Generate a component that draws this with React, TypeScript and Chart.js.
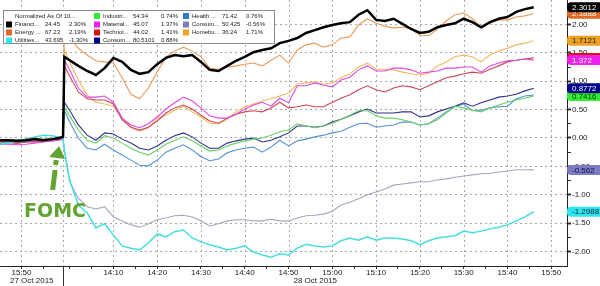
import React, { useEffect, useRef } from 'react';
import { Chart, registerables } from 'chart.js';

Chart.register(...registerables);

// minutes relative to 28 Oct 2015 14:00; negative values = 27 Oct 2015 closing session (compressed axis)
const times = [-15.9, -14, -12, -10, -8, -6, -4, -2.5, -1.5, -1.2,
  0, 2, 4, 6, 8, 10, 12, 14, 16, 18, 20, 22, 24, 26, 28, 30, 32, 34, 36, 38, 40,
  42, 44, 46, 48, 50, 52, 54, 56, 58, 60, 62, 64, 66, 68, 70, 72, 74, 76, 78, 80,
  82, 84, 86, 88, 90, 92, 94, 96, 98, 100, 102, 104, 106];

const dayBoundary = -1.4;
const xMin = -15.9;
const xMax = 113.6;
const yMin = -2.254;
const yMax = 2.43;

const financials = [-0.04, -0.04, -0.05, -0.04, -0.02, -0.04, -0.02, 0.0, 0.02, 1.43,
  1.37, 1.27, 1.18, 1.11, 1.23, 1.41, 1.34, 1.2, 1.13, 1.16, 1.3, 1.41, 1.46, 1.44, 1.46, 1.34,
  1.2, 1.18, 1.27, 1.36, 1.43, 1.51, 1.55, 1.58, 1.67, 1.71, 1.76, 1.85, 1.9, 1.95, 1.99,
  2.02, 2.04, 2.17, 2.25, 2.08, 2.06, 2.1, 2.01, 1.92, 1.85, 1.87, 1.95, 1.99, 2.02, 2.1,
  2.04, 1.95, 2.04, 2.1, 2.13, 2.22, 2.27, 2.3012];
const energy = [-0.05, -0.04, -0.05, -0.05, -0.04, -0.04, -0.02, 0.0, 0.02, 1.99,
  1.76, 1.58, 1.46, 1.36, 1.34, 1.32, 1.06, 0.77, 0.69, 0.88, 1.16, 1.43, 1.53, 1.6, 1.53, 1.43,
  1.23, 1.21, 1.25, 1.27, 1.3, 1.32, 1.27, 1.37, 1.46, 1.32, 1.55, 1.64, 1.67, 1.6, 1.64,
  1.76, 1.78, 1.99, 2.1, 2.02, 1.97, 1.94, 1.95, 1.92, 1.81, 1.8, 1.92, 2.06, 2.17, 2.2,
  2.1, 1.95, 2.02, 2.08, 2.08, 2.13, 2.15, 2.1888];
const utilities = [-0.11, -0.09, -0.05, -0.02, 0.02, 0.05, 0.04, 0.02, 0.0, -0.21,
  -0.74, -1.18, -1.32, -1.58, -1.51, -1.71, -1.9, -1.94, -1.97, -1.85, -1.69, -1.74, -1.65, -1.62, -1.76, -1.83,
  -1.88, -1.92, -1.97, -1.94, -1.9, -2.01, -2.06, -2.1, -2.04, -2.06, -1.94, -1.87, -1.9, -1.92, -1.9,
  -1.81, -1.76, -1.8, -1.74, -1.8, -1.76, -1.76, -1.78, -1.81, -1.88, -1.81, -1.76, -1.74, -1.72, -1.64,
  -1.67, -1.64, -1.6, -1.57, -1.53, -1.46, -1.39, -1.2988];
const industrials = [-0.04, -0.04, -0.04, -0.02, -0.02, -0.02, -0.02, 0.0, 0.0, 0.56,
  0.39, 0.14, -0.04, -0.09, 0.04, 0.0, -0.09, -0.18, -0.25, -0.3, -0.21, -0.11, -0.04, 0.02, -0.05, -0.14,
  -0.23, -0.21, -0.14, -0.09, -0.05, -0.02, 0.0, 0.05, 0.11, 0.14, 0.25, 0.21, 0.18, 0.21, 0.26,
  0.33, 0.4, 0.48, 0.48, 0.39, 0.35, 0.35, 0.32, 0.28, 0.23, 0.25, 0.32, 0.44, 0.56, 0.53,
  0.49, 0.46, 0.53, 0.58, 0.63, 0.67, 0.7, 0.7416];
const materials = [-0.11, -0.11, -0.12, -0.11, -0.09, -0.07, -0.05, -0.04, -0.02, 1.37,
  1.2, 0.88, 0.72, 0.72, 0.74, 0.63, 0.35, 0.23, 0.18, 0.25, 0.37, 0.51, 0.62, 0.72, 0.65, 0.53,
  0.39, 0.35, 0.35, 0.42, 0.51, 0.58, 0.63, 0.56, 0.7, 0.62, 0.92, 0.92, 0.97, 0.93, 0.9,
  1.02, 1.07, 1.2, 1.27, 1.18, 1.18, 1.23, 1.23, 1.2, 1.14, 1.16, 1.18, 1.23, 1.23, 1.25,
  1.25, 1.16, 1.27, 1.32, 1.36, 1.37, 1.39, 1.372];
const technology = [-0.07, -0.07, -0.09, -0.07, -0.07, -0.05, -0.04, -0.02, 0.0, 1.27,
  1.09, 0.81, 0.69, 0.67, 0.67, 0.6, 0.32, 0.19, 0.14, 0.19, 0.3, 0.44, 0.53, 0.58, 0.51, 0.4,
  0.3, 0.26, 0.35, 0.42, 0.46, 0.48, 0.46, 0.53, 0.63, 0.53, 0.55, 0.58, 0.55, 0.55, 0.63,
  0.7, 0.76, 0.85, 0.92, 0.85, 0.81, 0.88, 0.92, 0.9, 0.85, 0.92, 0.99, 1.06, 1.09, 1.13,
  1.16, 1.14, 1.21, 1.27, 1.34, 1.37, 1.39, 1.4102];
const consumerDisc = [-0.05, -0.05, -0.07, -0.05, -0.05, -0.05, -0.04, -0.02, 0.0, 0.63,
  0.49, 0.23, 0.05, -0.04, 0.09, 0.07, -0.02, -0.09, -0.18, -0.21, -0.14, -0.04, 0.04, 0.09, 0.02, -0.09,
  -0.18, -0.18, -0.09, -0.05, -0.02, 0.0, -0.07, -0.04, 0.02, 0.09, 0.21, 0.21, 0.19, 0.21, 0.28,
  0.33, 0.39, 0.46, 0.51, 0.44, 0.44, 0.44, 0.46, 0.46, 0.37, 0.39, 0.46, 0.51, 0.56, 0.62,
  0.56, 0.62, 0.67, 0.72, 0.74, 0.77, 0.83, 0.8772];
const health = [-0.07, -0.07, -0.09, -0.07, -0.05, -0.05, -0.04, -0.02, 0.0, 0.49,
  0.28, 0.0, -0.18, -0.21, -0.11, -0.21, -0.3, -0.39, -0.48, -0.49, -0.39, -0.25, -0.18, -0.12, -0.21, -0.33,
  -0.4, -0.37, -0.26, -0.21, -0.18, -0.16, -0.25, -0.16, -0.04, -0.14, -0.05, -0.02, 0.02, 0.05, 0.09,
  0.12, 0.19, 0.25, 0.26, 0.19, 0.21, 0.23, 0.28, 0.28, 0.23, 0.25, 0.35, 0.46, 0.55, 0.6,
  0.48, 0.49, 0.53, 0.55, 0.56, 0.69, 0.74, 0.7581];
const staples = [-0.09, -0.09, -0.09, -0.07, -0.05, -0.05, -0.05, -0.04, -0.02, -0.21,
  -0.77, -1.06, -1.21, -1.25, -1.21, -1.39, -1.46, -1.53, -1.57, -1.51, -1.44, -1.41, -1.37, -1.36, -1.39, -1.46,
  -1.55, -1.51, -1.46, -1.44, -1.44, -1.46, -1.46, -1.43, -1.46, -1.46, -1.41, -1.37, -1.36, -1.34, -1.29,
  -1.18, -1.13, -1.07, -1.0, -0.95, -0.9, -0.83, -0.81, -0.79, -0.77, -0.77, -0.74, -0.72, -0.69, -0.67,
  -0.65, -0.63, -0.62, -0.6, -0.58, -0.56, -0.56, -0.562];
const homebuilders = [-0.07, -0.05, -0.07, -0.05, -0.05, -0.04, -0.04, -0.02, 0.0, 1.55,
  1.34, 1.02, 0.76, 0.63, 0.6, 0.56, 0.35, 0.19, 0.12, 0.18, 0.35, 0.4, 0.49, 0.56, 0.46, 0.37,
  0.26, 0.25, 0.33, 0.46, 0.55, 0.6, 0.65, 0.69, 0.74, 0.79, 0.95, 0.97, 0.99, 0.95, 0.97,
  1.06, 1.13, 1.25, 1.32, 1.21, 1.21, 1.2, 1.16, 1.13, 1.11, 1.14, 1.27, 1.34, 1.43, 1.46,
  1.43, 1.34, 1.46, 1.53, 1.58, 1.64, 1.67, 1.7121];

const seriesValues = [financials, energy, utilities, industrials, materials, technology, consumerDisc, health, staples, homebuilders];
const legendNames = ['Financi...', 'Energy ...', 'Utilities...', 'Industri...', 'Material...', 'Technol...', 'Consum...', 'Health ...', 'Consum...', 'Homebu...'];
const legendLevels = ['24.45', '67.23', '43.695', '54.34', '45.07', '44.02', '80.5101', '71.42', '50.425', '36.24'];
const legendChanges = ['2.30%', '2.19%', '-1.30%', '0.74%', '1.37%', '1.41%', '0.88%', '0.76%', '-0.56%', '1.71%'];
const legendTitle = 'Normalized As Of 10...';

const xTickValues = [-11, -6, 0, 5, 10, 15, 20, 25, 30, 35, 40, 45, 50, 55, 60, 65, 70, 75, 80, 85, 90, 95, 100, 105, 110];
const xTickLabels: Record<string, string> = {
  '-11': '15:50', '10': '14:10', '20': '14:20', '30': '14:30', '40': '14:40', '50': '14:50',
  '60': '15:00', '70': '15:10', '80': '15:20', '90': '15:30', '100': '15:40', '110': '15:50',
};
const dayLabels = ['27 Oct 2015', '28 Oct 2015'];
const yTickValues = [-2, -1.75, -1.5, -1.25, -1, -0.75, -0.5, -0.25, 0, 0.25, 0.5, 0.75, 1, 1.25, 1.5, 1.75, 2, 2.25];
const annotationText = 'FOMC';
const annotationTime = -2.4;
const annotationValue = -0.14;

// styles
const lineColors = ['#000000', '#eb9a5a', '#45dede', '#66d166', '#e048e0', '#cc4858', '#30308e', '#5290d4', '#a6a6bc', '#f2b85e'];
const lineWidths = [2.5, 1.1, 1.5, 1.1, 1.1, 1.1, 1.1, 1.1, 1.1, 1.1];
const swatchColors = ['#000000', '#e06a24', '#30e4ee', '#33ee33', '#ee22ee', '#dd1111', '#000088', '#2a7fd4', '#7c7cc0', '#f0a020'];
const tagTextColors = ['#ffffff', '#ffffff', '#002233', '#003300', '#ffffff', '#ffffff', '#ffffff', '#ffffff', '#101040', '#222222'];
const tagOrder = [2, 8, 7, 3, 6, 5, 4, 9, 1, 0];
const legendCol = [0, 0, 0, 1, 1, 1, 1, 2, 2, 2];
const legendRow = [1, 2, 3, 0, 1, 2, 3, 0, 1, 2];
const colX = [6, 94, 183];
const colNumX = [45, 133, 222];
const colPctX = [69, 161, 246];
const rowY = [16, 24.5, 32.5, 40.5];
const green = '#63a332';
const gridColor = '#a8a8a8';
const axisFont = '"Liberation Sans", Arial, sans-serif';

const isMajorY = (v: number) => Math.abs(v * 2 - Math.round(v * 2)) < 1e-6;

const dottedV = (ctx: CanvasRenderingContext2D, px: number, top: number, bottom: number) => {
  ctx.beginPath();
  ctx.moveTo(px, top);
  ctx.lineTo(px, bottom);
  ctx.stroke();
};

const overlayPlugin = {
  id: 'overlay',
  beforeDatasetsDraw(chart: any) {
    const { ctx, chartArea, scales } = chart;
    const x = scales.x;
    ctx.save();
    ctx.strokeStyle = gridColor;
    ctx.lineWidth = 1;
    ctx.setLineDash([2, 3]);
    for (const v of xTickValues) {
      if (!xTickLabels[String(v)]) continue;
      const px = Math.round(x.getPixelForValue(v)) + 0.5;
      dottedV(ctx, px, chartArea.top, chartArea.bottom);
    }
    const bx = Math.round(x.getPixelForValue(dayBoundary)) + 0.5;
    dottedV(ctx, bx, chartArea.top, chartArea.bottom);
    ctx.restore();
  },
  afterDatasetsDraw(chart: any) {
    const { ctx, chartArea, scales } = chart;
    const x = scales.x;
    const y = scales.y;
    ctx.save();
    // day boundary below the axis
    const bx = Math.round(x.getPixelForValue(dayBoundary)) + 0.5;
    ctx.setLineDash([]);
    ctx.lineWidth = 1;
    ctx.strokeStyle = '#333';
    ctx.beginPath();
    ctx.moveTo(bx, chartArea.bottom);
    ctx.lineTo(bx, chart.height);
    ctx.stroke();
    // day labels
    ctx.fillStyle = '#222';
    ctx.font = '8px ' + axisFont;
    ctx.textAlign = 'center';
    ctx.textBaseline = 'middle';
    ctx.fillText(dayLabels[0], (chartArea.left + bx) / 2, 281);
    ctx.fillText(dayLabels[1], (bx + chartArea.right) / 2, 281);

    // FOMC arrow
    const ax = x.getPixelForValue(annotationTime);
    const ay = y.getPixelForValue(annotationValue);
    ctx.fillStyle = green;
    ctx.beginPath();
    ctx.moveTo(ax, ay);
    ctx.lineTo(ax - 10, ay + 11);
    ctx.lineTo(ax + 6, ay + 13);
    ctx.closePath();
    ctx.fill();
    ctx.strokeStyle = green;
    ctx.lineWidth = 5;
    ctx.lineCap = 'butt';
    ctx.beginPath();
    ctx.moveTo(ax - 3, ay + 14);
    ctx.lineTo(ax - 3.5, ay + 19);
    ctx.stroke();
    ctx.beginPath();
    ctx.moveTo(ax - 4, ay + 24);
    ctx.lineTo(ax - 6.5, ay + 44);
    ctx.stroke();
    ctx.font = 'bold 19px "DejaVu Sans", sans-serif';
    ctx.textAlign = 'left';
    ctx.textBaseline = 'alphabetic';
    ctx.fillText(annotationText, 24, ay + 71);

    // legend box
    ctx.fillStyle = '#ffffff';
    ctx.fillRect(3.5, 10.5, 271, 33);
    ctx.strokeStyle = '#8a8a8a';
    ctx.lineWidth = 1;
    ctx.strokeRect(3.5, 10.5, 271, 33);
    ctx.font = '6px ' + axisFont;
    ctx.textBaseline = 'middle';
    ctx.fillStyle = '#222';
    ctx.fillText(legendTitle, 15, rowY[0]);
    for (let i = 0; i < legendNames.length; i++) {
      const c = legendCol[i];
      const ry = rowY[legendRow[i]];
      ctx.fillStyle = swatchColors[i];
      ctx.fillRect(colX[c], ry - 3, 6, 6);
      ctx.fillStyle = '#222';
      ctx.fillText(legendNames[i], colX[c] + 9, ry);
      ctx.fillText(legendLevels[i], colNumX[c], ry);
      ctx.fillText(legendChanges[i], colPctX[c], ry);
    }
    ctx.restore();
  },
  afterDraw(chart: any) {
    const { ctx, chartArea, scales } = chart;
    const y = scales.y;
    ctx.save();
    ctx.font = '8px ' + axisFont;
    ctx.textBaseline = 'middle';
    ctx.textAlign = 'left';
    for (const i of tagOrder) {
      const vals = seriesValues[i];
      const v = vals[vals.length - 1];
      const cy = y.getPixelForValue(v);
      const left = chartArea.right;
      const h = 10;
      ctx.fillStyle = swatchColors[i];
      ctx.beginPath();
      (ctx as any).roundRect(left, cy - h / 2, chart.width - left + 2, h, [4, 0, 0, 4]);
      ctx.fill();
      ctx.fillStyle = tagTextColors[i];
      ctx.fillText(String(v), left + 5, cy + 0.5);
    }
    ctx.restore();
  },
};

export default function App() {
  const canvasRef = useRef<HTMLCanvasElement | null>(null);

  useEffect(() => {
    document.body.style.margin = '0';
    const canvas = canvasRef.current;
    if (!canvas) return;
    const datasets = seriesValues.map((vals, i) => ({
      label: legendNames[i],
      data: vals.map((v, k) => ({ x: times[k], y: v })),
      borderColor: lineColors[i],
      borderWidth: lineWidths[i],
      pointRadius: 0,
      tension: 0,
      fill: false,
    }));
    const chart = new Chart(canvas, {
      type: 'line',
      data: { datasets },
      options: {
        responsive: false,
        animation: false,
        events: [],
        layout: { padding: 0 },
        plugins: { legend: { display: false }, tooltip: { enabled: false } },
        scales: {
          x: {
            type: 'linear',
            position: 'bottom',
            min: xMin,
            max: xMax,
            afterBuildTicks: (s: any) => {
              s.ticks = xTickValues.map((v) => ({ value: v }));
            },
            afterFit: (s: any) => {
              s.height = 20;
              s.paddingLeft = 0;
              s.paddingRight = 0;
            },
            ticks: {
              autoSkip: false,
              maxRotation: 0,
              minRotation: 0,
              padding: -1,
              color: '#222',
              font: { family: axisFont, size: 8 },
              callback: (v: any) => xTickLabels[String(v)] || '',
            },
            grid: {
              color: 'rgba(0,0,0,0)',
              lineWidth: 1,
              drawTicks: true,
              tickLength: 3,
              tickColor: '#333',
              tickBorderDash: [],
            },
            border: { display: true, color: '#222', width: 1 },
          },
          y: {
            type: 'linear',
            position: 'right',
            min: yMin,
            max: yMax,
            afterBuildTicks: (s: any) => {
              s.ticks = yTickValues.map((v) => ({ value: v }));
            },
            afterFit: (s: any) => {
              s.width = 33;
              s.paddingTop = 0;
              s.paddingBottom = 0;
            },
            ticks: {
              autoSkip: false,
              padding: 1,
              color: '#222',
              font: { family: axisFont, size: 8 },
              callback: (v: any) => (isMajorY(Number(v)) ? Number(v).toFixed(2) : ''),
            },
            grid: {
              color: (c: any) => (c.tick && isMajorY(c.tick.value) ? gridColor : 'rgba(0,0,0,0)'),
              lineWidth: 1,
              drawTicks: true,
              tickLength: 4,
              tickColor: '#333',
              tickWidth: (c: any) => (c.tick && isMajorY(c.tick.value) ? 2 : 1),
              tickBorderDash: [],
            },
            border: { display: true, color: '#222', width: 1, dash: [2, 3] },
          },
        },
      },
      plugins: [overlayPlugin],
    } as any);
    return () => chart.destroy();
  }, []);

  return (
    <div style={{ position: 'absolute', left: 0, top: 0, width: 600, height: 286, background: '#fff' }}>
      <canvas ref={canvasRef} width={600} height={286} style={{ display: 'block' }} />
    </div>
  );
}
